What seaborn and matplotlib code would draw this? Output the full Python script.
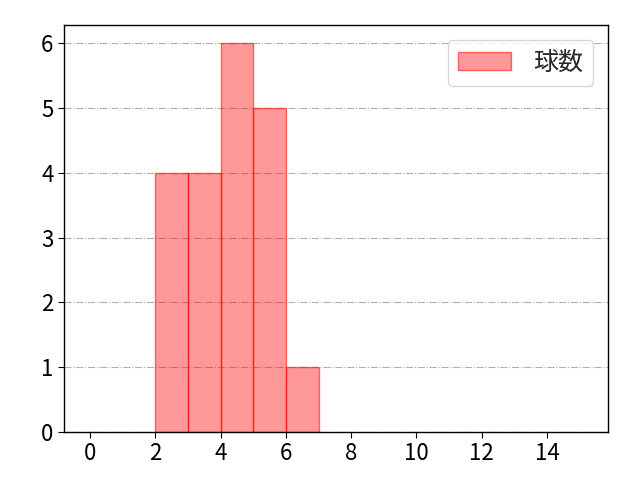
import matplotlib
matplotlib.use("Agg")
import matplotlib.pyplot as plt
import seaborn as sns
import pandas as pd

bin_left = [2, 3, 4, 5, 6]
counts = [4, 4, 6, 5, 1]
label = "球数"

sns.set_style("ticks")
plt.rcParams['font.family'] = ['Noto Sans CJK JP', 'DejaVu Sans']

df = pd.DataFrame({"x": [v + 0.5 for v in bin_left], "w": counts})
edges = bin_left + [bin_left[-1] + 1]

fig = plt.figure(figsize=(6.4, 4.8), dpi=100)
ax = fig.add_axes([0.1, 0.1, 0.85, 0.848])
sns.histplot(data=df, x="x", weights="w", bins=edges, ax=ax,
             facecolor=(1, 0, 0, 0.4), edgecolor=(1, 0, 0, 0.55), linewidth=1,
             label=label, zorder=2)
ax.set_xlim(-0.8, 15.87)
ax.set_ylim(0, 6.28)
ax.set_xticks(range(0, 15, 2))
ax.set_yticks(range(0, 7))
ax.set_xlabel("")
ax.set_ylabel("")
ax.yaxis.grid(True, linestyle="-.", color="#b0b0b0", linewidth=0.8, zorder=0)
ax.set_axisbelow(True)
ax.tick_params(labelsize=16, length=4, colors="black")
for s in ax.spines.values():
    s.set_visible(True)
    s.set_linewidth(1)
    s.set_color("black")
ax.legend(loc="upper right", fontsize=18, handlelength=2.1, handletextpad=0.9,
          borderpad=0.4, borderaxespad=0.6)
fig.savefig("out.png", dpi=100)
